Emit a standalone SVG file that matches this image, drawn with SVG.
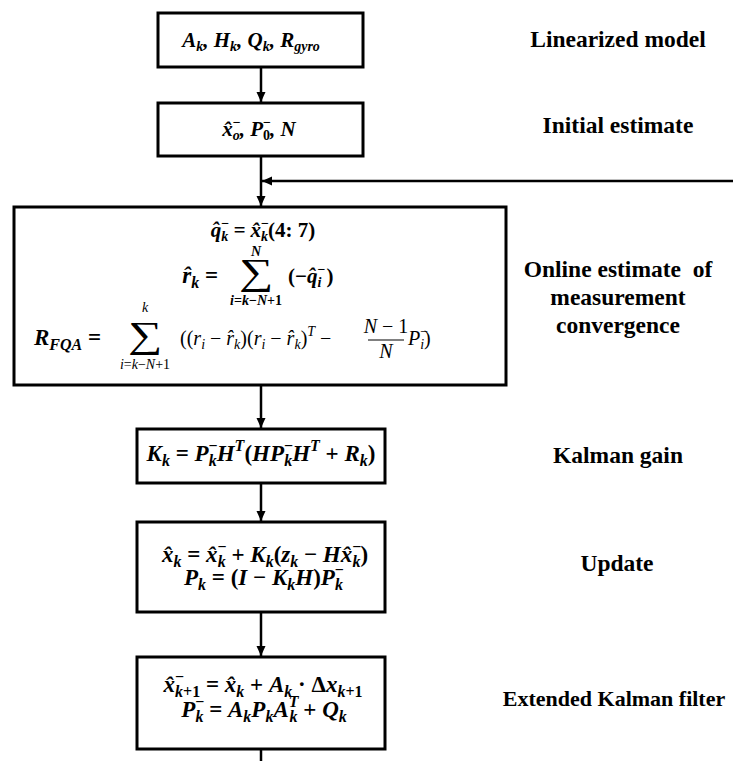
<svg xmlns="http://www.w3.org/2000/svg" width="733" height="761" viewBox="0 0 733 761">
<defs>
<style>
.box{fill:#fff;stroke:#000;stroke-width:3}
.con{stroke:#000;stroke-width:2.5;fill:none}
.m{font-family:"Liberation Serif","DejaVu Serif",serif;font-weight:bold;font-style:italic;font-size:21px;fill:#000}
.big{font-size:23px}
.r{font-family:"Liberation Serif","DejaVu Serif",serif;font-weight:normal;font-style:italic;font-size:20px;fill:#000}
.u{font-style:normal}
.sb{font-size:14px}
.sc{font-size:16px}
.sig{font-family:"Liberation Serif","DejaVu Serif",serif;font-size:37px;font-style:normal;fill:#000}
.lim{font-size:14px}
.lbl{font-family:"Liberation Serif","Times New Roman",serif;font-weight:bold;font-size:23.5px;text-anchor:middle;fill:#000}
</style>
<marker id="ah" markerUnits="userSpaceOnUse" markerWidth="10" markerHeight="10" refX="10" refY="5" orient="auto">
<path d="M0,0.5 L10,5 L0,9.5 z" fill="#000"/>
</marker>
</defs>

<g id="connectors">
<line class="con" x1="261" y1="68" x2="261" y2="102" marker-end="url(#ah)"/>
<line class="con" x1="261" y1="157" x2="261" y2="206" marker-end="url(#ah)"/>
<line class="con" x1="733" y1="181" x2="262" y2="181" marker-end="url(#ah)"/>
<line class="con" x1="261" y1="386" x2="261" y2="428" marker-end="url(#ah)"/>
<line class="con" x1="261" y1="484" x2="261" y2="521" marker-end="url(#ah)"/>
<line class="con" x1="261" y1="613" x2="261" y2="656" marker-end="url(#ah)"/>
<line class="con" x1="261" y1="750" x2="261" y2="761"/>
</g>

<g id="node-linearized">
<rect class="box" x="158" y="13" width="205" height="54"/>
<text class="m" x="251" y="47" text-anchor="middle">A<tspan class="sb" dy="4">k</tspan><tspan dy="-4">, H</tspan><tspan class="sb" dy="4">k</tspan><tspan dy="-4">, Q</tspan><tspan class="sb" dy="4">k</tspan><tspan dy="-4">, R</tspan><tspan class="sb" dy="4">gyro</tspan></text>
</g>

<g id="node-initial">
<rect class="box" x="158" y="103" width="205" height="53"/>
<text class="m" x="259" y="136" text-anchor="middle">x̂<tspan class="sb u" dy="-9">−</tspan><tspan class="sb" dx="-8" dy="13">o</tspan><tspan dy="-4">, P</tspan><tspan class="sb u" dy="-9">−</tspan><tspan class="sb u" dx="-8" dy="13">0</tspan><tspan dy="-4">, N</tspan></text>
</g>

<g id="node-online">
<rect class="box" x="14" y="207" width="492" height="178"/>
<text class="m" x="263" y="237" text-anchor="middle">q̂<tspan class="sb u" dy="-9">−</tspan><tspan class="sb" dx="-8" dy="13">k</tspan><tspan dy="-4"> = x̂</tspan><tspan class="sb u" dy="-9">−</tspan><tspan class="sb" dx="-8" dy="13">k</tspan><tspan class="u" dy="-4">(4: 7)</tspan></text>
<text class="m big" x="218" y="283" text-anchor="end">r̂<tspan class="sc" dy="5">k</tspan><tspan class="u" dy="-5"> =</tspan></text>
<text class="sig" transform="translate(256,284) scale(1.3,1)" x="0" y="0" text-anchor="middle">∑</text>
<text class="m lim" x="256" y="256" text-anchor="middle">N</text>
<text class="m lim" x="256" y="305" text-anchor="middle">i<tspan class="u">=</tspan>k<tspan class="u">−</tspan>N<tspan class="u">+1</tspan></text>
<text class="m" x="288" y="283"><tspan class="u">(−</tspan>q̂<tspan class="sb u" dy="-9">−</tspan><tspan class="sb" dx="-8" dy="13">i</tspan><tspan class="u" dy="-4"> )</tspan></text>

<text class="m big" x="34" y="345" xml:space="preserve">R<tspan class="sc" dy="5">FQA</tspan><tspan class="u" dy="-5"> = </tspan></text>
<text class="sig" transform="translate(145,347) scale(1.3,1)" x="0" y="0" text-anchor="middle">∑</text>
<text class="r lim" x="145" y="312" text-anchor="middle">k</text>
<text class="r lim" x="145" y="369" text-anchor="middle">i<tspan class="u">=</tspan>k<tspan class="u">−</tspan>N<tspan class="u">+1</tspan></text>
<text class="r" x="180" y="345"><tspan class="u">((</tspan>r<tspan class="sb" dy="4">i</tspan><tspan class="u" dy="-4"> − </tspan>r̂<tspan class="sb" dy="4">k</tspan><tspan class="u" dy="-4">)(</tspan>r<tspan class="sb" dy="4">i</tspan><tspan class="u" dy="-4"> − </tspan>r̂<tspan class="sb" dy="4">k</tspan><tspan class="u" dy="-4">)</tspan><tspan class="sb" dy="-9">T</tspan><tspan class="u" dy="9"> −</tspan></text>
<text class="r" x="386" y="333" text-anchor="middle">N <tspan class="u">− 1</tspan></text>
<line x1="368" y1="340" x2="404" y2="340" stroke="#000" stroke-width="1"/>
<text class="r" x="386" y="358" text-anchor="middle">N</text>
<text class="r" x="408" y="345">P<tspan class="sb u" dy="-9">−</tspan><tspan class="sb" dx="-8" dy="13">i</tspan><tspan class="u" dy="-4">)</tspan></text>
</g>

<g id="node-kalman-gain">
<rect class="box" x="137" y="429" width="248" height="54"/>
<text class="m big" x="261" y="461" text-anchor="middle">K<tspan class="sc" dy="5">k</tspan><tspan class="u" dy="-5"> =  </tspan>P<tspan class="sc u" dy="-10">−</tspan><tspan class="sc" dx="-9" dy="15">k</tspan><tspan dy="-5">H</tspan><tspan class="sc" dy="-10">T</tspan><tspan class="u" dy="10">(</tspan>HP<tspan class="sc u" dy="-10">−</tspan><tspan class="sc" dx="-9" dy="15">k</tspan><tspan dy="-5">H</tspan><tspan class="sc" dy="-10">T</tspan><tspan class="u" dy="10"> + </tspan>R<tspan class="sc" dy="5">k</tspan><tspan class="u" dy="-5">)</tspan></text>
</g>

<g id="node-update">
<rect class="box" x="137" y="522" width="248" height="90"/>
<text class="m big" x="265" y="562" text-anchor="middle">x̂<tspan class="sc" dy="5">k</tspan><tspan class="u" dy="-5"> = </tspan>x̂<tspan class="sc u" dy="-10">−</tspan><tspan class="sc" dx="-9" dy="15">k</tspan><tspan class="u" dy="-5"> + </tspan>K<tspan class="sc" dy="5">k</tspan><tspan class="u" dy="-5">(</tspan>z<tspan class="sc" dy="5">k</tspan><tspan class="u" dy="-5"> − </tspan>Hx̂<tspan class="sc u" dy="-10">−</tspan><tspan class="sc" dx="-9" dy="15">k</tspan><tspan class="u" dy="-5">)</tspan></text>
<text class="m big" x="264" y="585" text-anchor="middle">P<tspan class="sc" dy="5">k</tspan><tspan class="u" dy="-5"> = (</tspan>I<tspan class="u"> − </tspan>K<tspan class="sc" dy="5">k</tspan><tspan dy="-5">H</tspan><tspan class="u">)</tspan>P<tspan class="sc u" dy="-10">−</tspan><tspan class="sc" dx="-9" dy="15">k</tspan></text>
</g>

<g id="node-ekf">
<rect class="box" x="137" y="657" width="248" height="92"/>
<text class="m big" x="263" y="692" text-anchor="middle">x̂<tspan class="sc u" dy="-10">−</tspan><tspan class="sc" dx="-9" dy="15">k<tspan class="u">+1</tspan></tspan><tspan class="u" dy="-5"> = </tspan>x̂<tspan class="sc" dy="5">k</tspan><tspan class="u" dy="-5"> + </tspan>A<tspan class="sc" dy="5">k</tspan><tspan class="u" dy="-5"> · Δ</tspan>x<tspan class="sc" dy="5">k<tspan class="u">+1</tspan></tspan></text>
<text class="m big" x="264" y="717" text-anchor="middle">P<tspan class="sc u" dy="-10">−</tspan><tspan class="sc" dx="-9" dy="15">k</tspan><tspan class="u" dy="-5"> = </tspan>A<tspan class="sc" dy="5">k</tspan><tspan dy="-5">P</tspan><tspan class="sc" dy="5">k</tspan><tspan dy="-5">A</tspan><tspan class="sc" dy="-10">T</tspan><tspan class="sc" dx="-9" dy="15">k</tspan><tspan class="u" dy="-5"> + </tspan>Q<tspan class="sc" dy="5">k</tspan></text>
</g>

<g id="labels">
<text class="lbl" x="618" y="47">Linearized model</text>
<text class="lbl" x="618" y="133">Initial estimate</text>
<text class="lbl" x="618" y="277" xml:space="preserve">Online estimate  of</text>
<text class="lbl" x="618" y="305">measurement</text>
<text class="lbl" x="618" y="333">convergence</text>
<text class="lbl" x="618" y="463">Kalman gain</text>
<text class="lbl" x="617" y="571">Update</text>
<text class="lbl" x="614" y="706" style="font-size:22px">Extended Kalman filter</text>
</g>
</svg>
